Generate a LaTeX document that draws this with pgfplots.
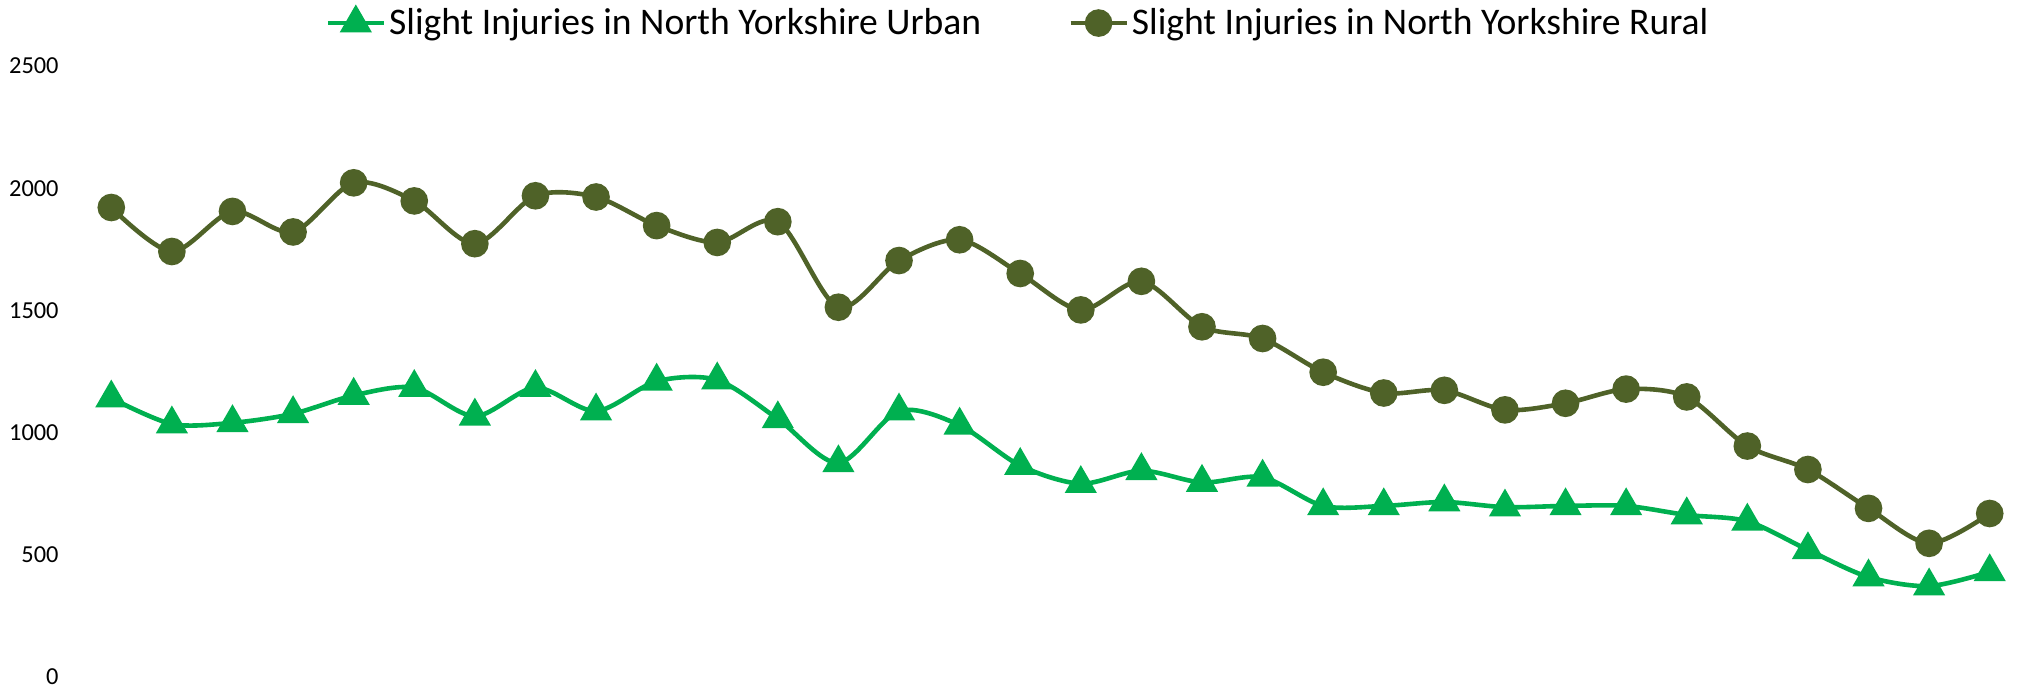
\documentclass[border=0pt]{standalone}
\usepackage{pgfplots}
\pgfplotsset{compat=1.18}
\usepackage{fontspec}
\setmainfont{Carlito}
\definecolor{urban}{RGB}{0,176,80}
\definecolor{rural}{RGB}{79,98,40}
\begin{document}
\begin{tikzpicture}
\path[use as bounding box] (0,0) rectangle (1017.5pt,346pt);
\begin{axis}[
  at={(40.5pt,7.5pt)}, anchor=south west,
  scale only axis, width=969.5pt, height=305.5pt,
  xmin=-0.5, xmax=31.5, ymin=0, ymax=2500,
  xtick=\empty, ytick={0,500,1000,1500,2000,2500},
  axis line style={draw=none}, major tick length=0pt,
  /pgf/number format/assume math mode=true,
  /pgf/number format/1000 sep={},
  yticklabel style={font=\fontsize{12.2}{14}\selectfont, inner sep=0pt, xshift=-11pt},
  clip=false,
  legend columns=2,
  legend style={at={(0.5,1)}, anchor=south, xshift=-16pt, yshift=12.5pt, draw=none, fill=none,
    font=\fontsize{18.8}{20}\selectfont, inner sep=0pt,
    nodes={inner sep=1.5pt}},
  /tikz/every even column/.append style={column sep=42pt},
  legend image code/.code={\draw[mark repeat=2,mark phase=2,#1] plot coordinates {(0pt,0pt) (14pt,0pt) (28pt,0pt)};},
]
\addplot[urban, line width=2.3pt, smooth, mark=triangle*, mark size=7pt, mark options={solid}] coordinates {
(0,1141)(1,1035)(2,1040)(3,1077)(4,1152)(5,1184)(6,1067)(7,1184)(8,1088)(9,1210)(10,1215)(11,1056)(12,876)(13,1088)(14,1030)(15,865)(16,791)(17,844)(18,796)(19,817)(20,700)(21,700)(22,716)(23,695)(24,700)(25,700)(26,663)(27,637)(28,520)(29,409)(30,372)(31,430)};
\addlegendentry{Slight Injuries in North Yorkshire Urban}
\addplot[rural, line width=2.3pt, smooth, mark=*, mark size=5.75pt, mark options={solid}] coordinates {
(0,1921)(1,1741)(2,1905)(3,1821)(4,2022)(5,1948)(6,1773)(7,1969)(8,1964)(9,1847)(10,1778)(11,1863)(12,1513)(13,1704)(14,1789)(15,1651)(16,1502)(17,1619)(18,1433)(19,1385)(20,1247)(21,1162)(22,1173)(23,1093)(24,1120)(25,1178)(26,1146)(27,945)(28,849)(29,690)(30,547)(31,669)};
\addlegendentry{Slight Injuries in North Yorkshire Rural}
\end{axis}
\end{tikzpicture}
\end{document}
